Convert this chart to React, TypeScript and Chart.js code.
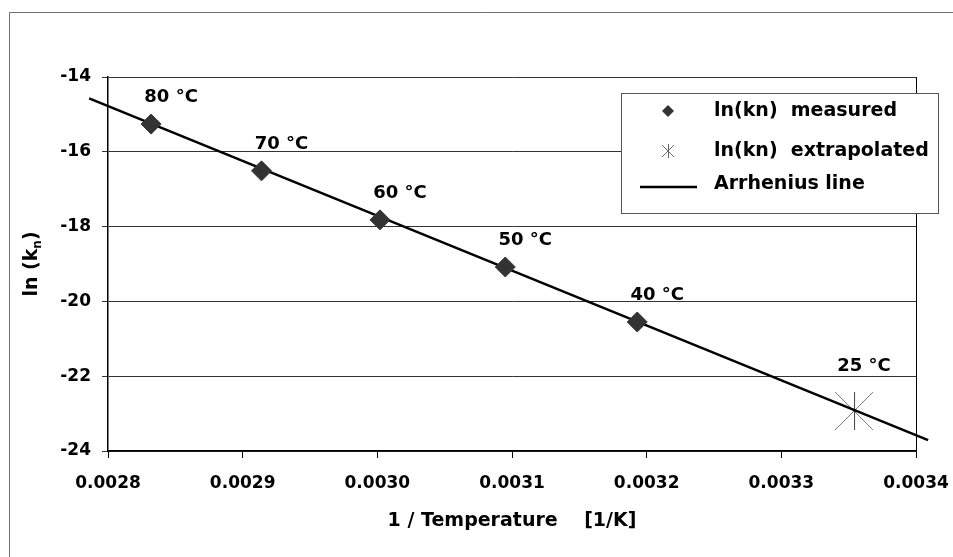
import React, { useEffect, useRef } from "react";
import { Chart, registerables } from "chart.js";

Chart.register(...registerables);

// ---------- data ----------
const measuredLabels = ["80 °C", "70 °C", "60 °C", "50 °C", "40 °C"];
const measuredX = [0.002832, 0.002914, 0.003002, 0.003095, 0.003193];
const measuredY = [-15.26, -16.51, -17.82, -19.08, -20.55];

const extrapolatedLabels = ["25 °C"];
const extrapolatedX = [0.003354];
const extrapolatedY = [-22.93];

const arrheniusX = [0.002786, 0.003409, 0.003418];
const arrheniusY = [-14.57, -23.71, -23.71];

const xTicks = [0.0028, 0.0029, 0.003, 0.0031, 0.0032, 0.0033, 0.0034];
const yTicks = [-14, -16, -18, -20, -22, -24];

const xAxisTitle = "1 / Temperature    [1/K]";
const yAxisTitleParts = ["ln (k", "n", ")"];
const seriesNames = ["ln(kn)  measured", "ln(kn)  extrapolated", "Arrhenius line"];

const FONT = "'DejaVu Sans', 'Liberation Sans', sans-serif";

function makeStar(size: number, color: string): HTMLCanvasElement {
  const c = document.createElement("canvas");
  c.width = size;
  c.height = size;
  const ctx = c.getContext("2d")!;
  ctx.lineWidth = 1;
  const h = size / 2;
  ctx.strokeStyle = "#777";
  ctx.beginPath();
  ctx.moveTo(0, 0);
  ctx.lineTo(size, size);
  ctx.moveTo(size, 0);
  ctx.lineTo(0, size);
  ctx.stroke();
  ctx.strokeStyle = color;
  ctx.beginPath();
  ctx.moveTo(h + 0.5, 0);
  ctx.lineTo(h + 0.5, size);
  ctx.stroke();
  return c;
}

const decorPlugin = {
  id: "decor",
  afterDraw(chart: any) {
    const ctx: CanvasRenderingContext2D = chart.ctx;
    const area = chart.chartArea;
    const xs = chart.scales.x;
    const ys = chart.scales.y;

    ctx.save();
    // outer frame (top & left visible)
    ctx.strokeStyle = "#707070";
    ctx.lineWidth = 1;
    ctx.beginPath();
    ctx.moveTo(9.5, 557);
    ctx.lineTo(9.5, 12.5);
    ctx.lineTo(953, 12.5);
    ctx.stroke();

    // right border of plot area
    ctx.strokeStyle = "#000";
    ctx.lineWidth = 1;
    ctx.beginPath();
    ctx.moveTo(Math.round(area.right) + 0.5, area.top);
    ctx.lineTo(Math.round(area.right) + 0.5, area.bottom);
    ctx.stroke();

    // y-axis title with subscript
    ctx.translate(30, (area.top + area.bottom) / 2);
    ctx.rotate(-Math.PI / 2);
    ctx.fillStyle = "#000";
    ctx.textBaseline = "alphabetic";
    ctx.textAlign = "left";
    const big = "bold 19px " + FONT;
    const small = "bold 12px " + FONT;
    ctx.font = big;
    const w0 = ctx.measureText(yAxisTitleParts[0]).width;
    const w2 = ctx.measureText(yAxisTitleParts[2]).width;
    ctx.font = small;
    const w1 = ctx.measureText(yAxisTitleParts[1]).width;
    const total = w0 + w1 + w2;
    let px = -total / 2;
    const base = 7;
    ctx.font = big;
    ctx.fillText(yAxisTitleParts[0], px, base);
    px += w0;
    ctx.font = small;
    ctx.fillText(yAxisTitleParts[1], px, base + 4);
    px += w1;
    ctx.font = big;
    ctx.fillText(yAxisTitleParts[2], px, base);
    ctx.restore();

    // data labels
    ctx.save();
    ctx.font = "bold 18px " + FONT;
    ctx.fillStyle = "#000";
    ctx.textAlign = "center";
    ctx.textBaseline = "middle";
    measuredLabels.forEach((t, i) => {
      const x = xs.getPixelForValue(measuredX[i]);
      const y = ys.getPixelForValue(measuredY[i]);
      ctx.fillText(t, x + 20, y - 27);
    });
    extrapolatedLabels.forEach((t, i) => {
      const x = xs.getPixelForValue(extrapolatedX[i]);
      const y = ys.getPixelForValue(extrapolatedY[i]);
      ctx.fillText(t, x + 10, y - 45);
    });
    ctx.restore();

    // legend
    ctx.save();
    const L = 621.5, T = 93.5, R = 938.5, B = 213.5;
    ctx.fillStyle = "#fff";
    ctx.fillRect(L, T, R - L, B - T);
    ctx.strokeStyle = "#555";
    ctx.lineWidth = 1;
    ctx.strokeRect(L, T, R - L, B - T);
    const rows = [111, 151, 184];
    const mx = 668;
    // measured diamond
    ctx.fillStyle = "#333";
    ctx.beginPath();
    ctx.moveTo(mx, rows[0] - 6);
    ctx.lineTo(mx + 6, rows[0]);
    ctx.lineTo(mx, rows[0] + 6);
    ctx.lineTo(mx - 6, rows[0]);
    ctx.closePath();
    ctx.fill();
    // star
    ctx.strokeStyle = "#666";
    ctx.beginPath();
    ctx.moveTo(mx + 0.5, rows[1] - 7);
    ctx.lineTo(mx + 0.5, rows[1] + 7);
    ctx.moveTo(mx - 6, rows[1] - 6);
    ctx.lineTo(mx + 6, rows[1] + 6);
    ctx.moveTo(mx + 6, rows[1] - 6);
    ctx.lineTo(mx - 6, rows[1] + 6);
    ctx.stroke();
    // line
    ctx.strokeStyle = "#000";
    ctx.lineWidth = 2.5;
    ctx.beginPath();
    ctx.moveTo(640, rows[2] + 3);
    ctx.lineTo(697, rows[2] + 3);
    ctx.stroke();
    ctx.fillStyle = "#000";
    ctx.font = "bold 19px " + FONT;
    ctx.textAlign = "left";
    ctx.textBaseline = "middle";
    const names = chart.data.datasets.map((d: any) => d.label);
    names.forEach((n: string, i: number) => ctx.fillText(n, 714, rows[i]));
    ctx.restore();
  },
};

export default function App() {
  const ref = useRef<HTMLCanvasElement | null>(null);

  useEffect(() => {
    if (!ref.current) return;
    const star = makeStar(38, "#444");
    const chart = new Chart(ref.current, {
      type: "scatter",
      data: {
        datasets: [
          {
            label: seriesNames[0],
            data: measuredX.map((x, i) => ({ x, y: measuredY[i] })),
            pointStyle: "rectRot",
            pointRadius: 10,
            backgroundColor: "#333",
            borderColor: "#333",
            borderWidth: 1,
            order: 0,
          },
          {
            label: seriesNames[1],
            data: extrapolatedX.map((x, i) => ({ x, y: extrapolatedY[i] })),
            pointStyle: star as any,
            pointRadius: 19,
            order: 2,
          },
          {
            type: "line",
            label: seriesNames[2],
            data: arrheniusX.map((x, i) => ({ x, y: arrheniusY[i] })),
            showLine: true,
            borderColor: "#000",
            borderWidth: 2.5,
            pointRadius: 0,
            fill: false,
            clip: false as any,
            order: 1,
          } as any,
        ],
      },
      options: {
        animation: false,
        responsive: false,
        maintainAspectRatio: false,
        layout: { padding: { top: 77, right: 37, left: 0, bottom: 0 } },
        plugins: {
          legend: { display: false },
          tooltip: { enabled: false },
        },
        scales: {
          x: {
            type: "linear",
            min: 0.0028,
            max: 0.0034,
            afterBuildTicks: (s: any) => {
              s.ticks = xTicks.map((v) => ({ value: v }));
            },
            afterFit: (s: any) => {
              s.height = 106;
              s.paddingLeft = 0;
              s.paddingRight = 0;
            },
            ticks: {
              callback: (v: any) => Number(v).toFixed(4),
              font: { family: FONT, size: 17, weight: "bold" },
              color: "#000",
              padding: 15,
              maxRotation: 0,
            },
            grid: {
              drawOnChartArea: false,
              tickLength: 7,
              color: "#000",
            },
            border: { display: true, color: "#000", width: 1.5 },
            title: {
              display: true,
              text: xAxisTitle,
              font: { family: FONT, size: 19, weight: "bold" },
              color: "#000",
              padding: { top: 4, bottom: 25 },
            },
          },
          y: {
            type: "linear",
            min: -24,
            max: -14,
            afterBuildTicks: (s: any) => {
              s.ticks = yTicks.map((v) => ({ value: v }));
            },
            afterFit: (s: any) => {
              s.width = 108;
              s.paddingTop = 0;
              s.paddingBottom = 0;
            },
            ticks: {
              font: { family: FONT, size: 17, weight: "bold" },
              color: "#000",
              padding: 11,
            },
            grid: {
              color: "#333",
              lineWidth: 1,
              tickLength: 6,
            },
            border: { display: true, color: "#000", width: 1.5 },
          },
        },
      },
      plugins: [decorPlugin],
    } as any);
    return () => chart.destroy();
  }, []);

  return (
    <div style={{ position: "fixed", left: 0, top: 0, width: 953, height: 557, background: "#fff" }}>
      <canvas ref={ref} width={953} height={557} style={{ display: "block" }} />
    </div>
  );
}
